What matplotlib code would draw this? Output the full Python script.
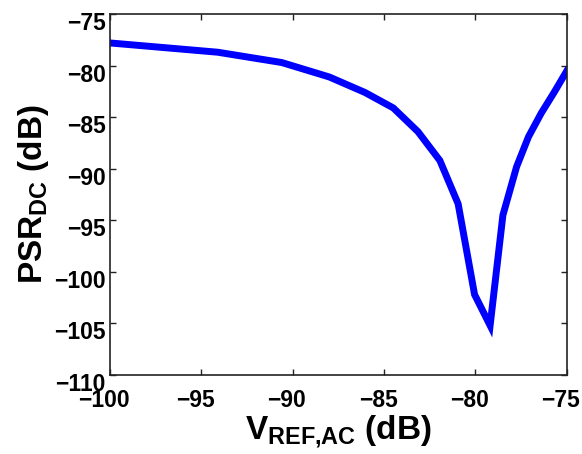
import matplotlib
matplotlib.use("Agg")
import matplotlib.pyplot as plt
import matplotlib.transforms as mtransforms

plt.rcParams['font.family'] = ['Liberation Sans', 'DejaVu Sans']
plt.rcParams['font.weight'] = 'bold'
plt.rcParams['mathtext.fontset'] = 'custom'
plt.rcParams['mathtext.rm'] = 'Liberation Sans:bold'
plt.rcParams['mathtext.bf'] = 'Liberation Sans:bold'
plt.rcParams['mathtext.it'] = 'Liberation Sans:bold'

##### data #####
v_ref_ac = [-100, -94.1, -90.6, -88.0, -86.05, -84.5, -83.15, -81.95, -80.95,
            -80.05, -79.2, -78.5, -77.75, -77.1, -76.4, -75.7, -75.0]
psr_dc = [-77.8, -78.7, -79.7, -81.1, -82.6, -84.1, -86.4, -89.2, -93.4,
          -102.2, -105.2, -94.5, -89.8, -86.9, -84.6, -82.6, -80.5]

x_ticks = [-100, -95, -90, -85, -80, -75]
y_ticks = [-110, -105, -100, -95, -90, -85, -80, -75]

fig = plt.figure(figsize=(5.82, 4.54), dpi=100)
ax = fig.add_axes([0.189, 0.174, 0.785, 0.795])

ax.plot(v_ref_ac, psr_dc, color='#0000ff', linewidth=5, solid_joinstyle='miter')

ax.set_xlim(-100, -75)
ax.set_ylim(-110, -75)
ax.set_xticks(x_ticks)
ax.set_yticks(y_ticks)
ax.set_xticklabels([f'\u2212{abs(t)}' for t in x_ticks])
ax.set_yticklabels([f'\u2212{abs(t)}' for t in y_ticks])

ax.tick_params(direction='in', length=4, width=1, top=True, right=True,
               labelsize=16.5, colors='#222222', labelcolor='black')
ax.tick_params(axis='x', pad=10)
ax.tick_params(axis='y', pad=3)
for sp in ax.spines.values():
    sp.set_color('#222222')
    sp.set_linewidth(1.2)

# tick labels sit a bit low (y) and a bit left (x) of their ticks
yshift = mtransforms.ScaledTranslation(0, -7 / 100, fig.dpi_scale_trans)
for lab in ax.get_yticklabels():
    lab.set_transform(lab.get_transform() + yshift)
xshift = mtransforms.ScaledTranslation(-6 / 100, 0, fig.dpi_scale_trans)
for lab in ax.get_xticklabels():
    lab.set_transform(lab.get_transform() + xshift)

ax.set_xlabel(r'$\mathrm{V_{REF{,}AC}}$ (dB)', fontsize=24, fontweight='bold', labelpad=1)
ax.set_ylabel(r'$\mathrm{PSR_{DC}}$ (dB)', fontsize=24, fontweight='bold', labelpad=2)

fig.savefig('out.png', dpi=100)
